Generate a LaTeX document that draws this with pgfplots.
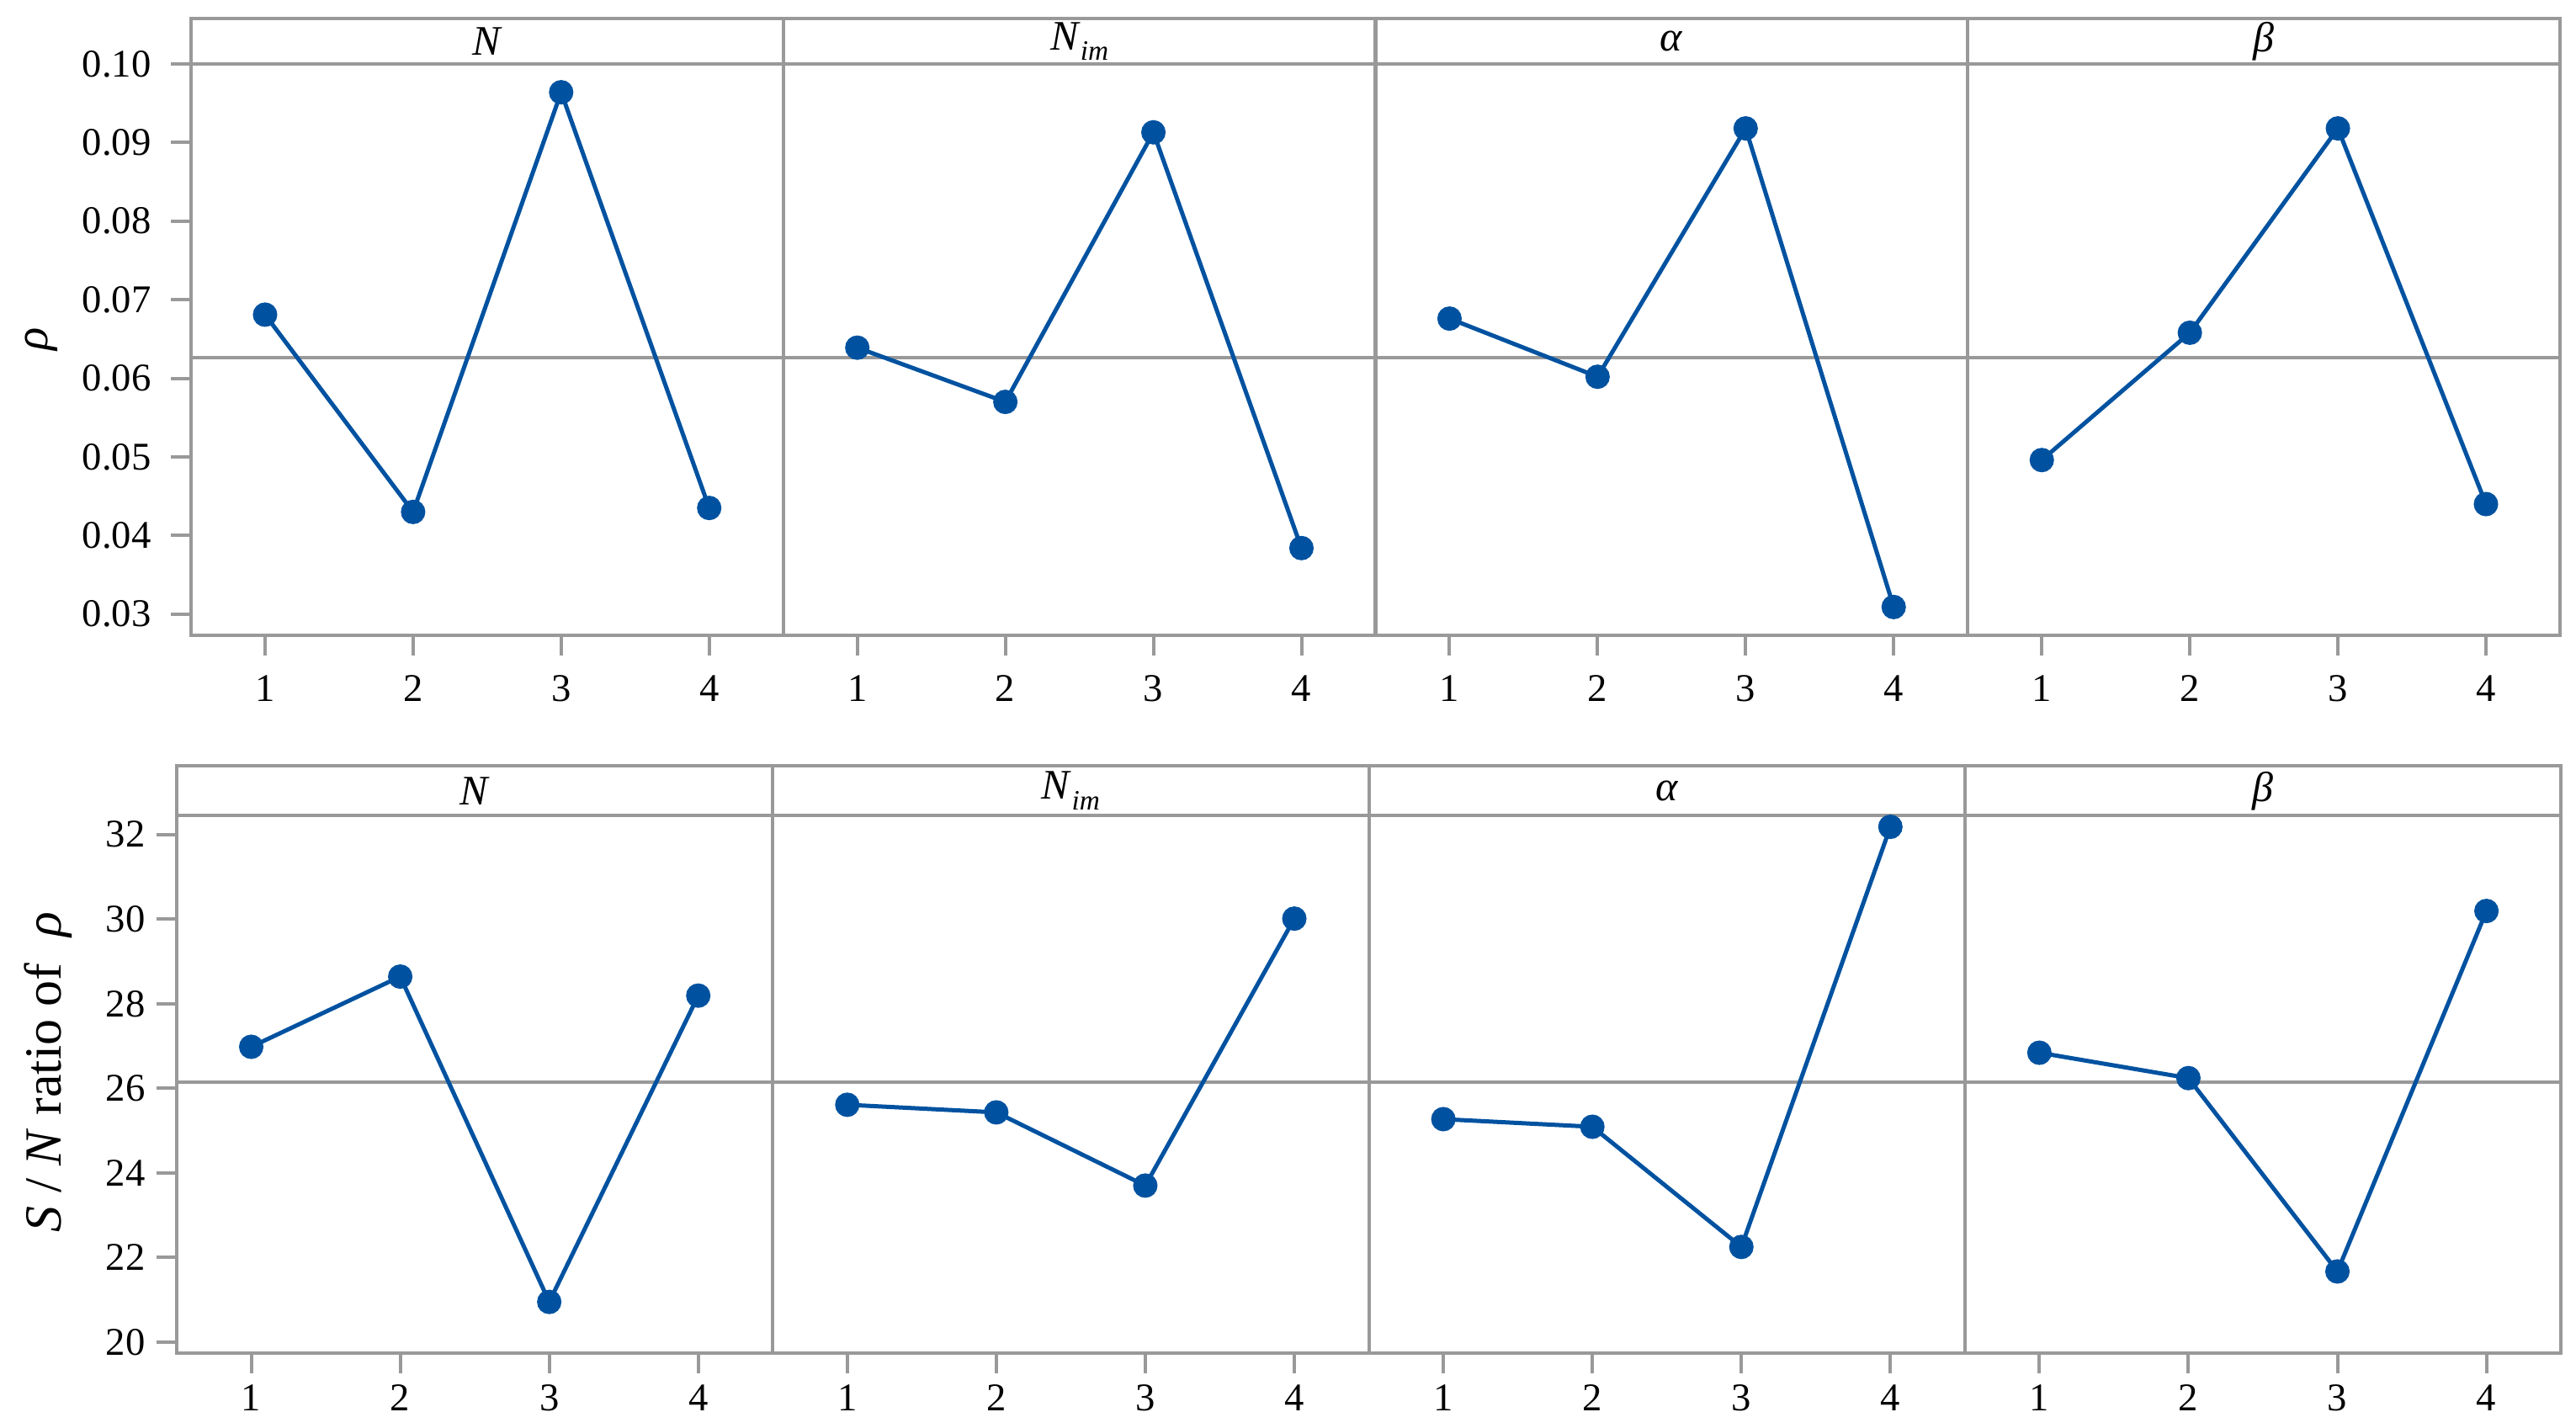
\documentclass[border=0pt]{standalone}
\usepackage{fontspec}
\setmainfont{Liberation Serif}
\usepackage{pgfplots}
\pgfplotsset{compat=1.18}

\definecolor{framegray}{RGB}{153,153,153}
\definecolor{lineblue}{RGB}{0,82,160}

\pgfplotsset{
  every axis title shift=0pt,
  panel/.style={
    scale only axis, anchor=south west, clip=false,
    xmin=0.5, xmax=4.5, xtick={1,2,3,4},
    axis line style={framegray, line width=0.6pt},
    every tick/.style={framegray, line width=0.6pt},
    tick align=outside, major tick length=3.6pt,
    xtick pos=bottom, ytick pos=left,
    ticklabel style={font=\fontsize{7}{8}\selectfont, text=black},
    /pgf/number format/assume math mode=true,
    scaled y ticks=false,
    title style={at={(0.5,1)}, anchor=center, font=\fontsize{7.5}{8}\selectfont},
  },
  toprow/.style={panel, width=105.56pt, height=101.85pt, ymin=0.0273, ymax=0.1,
    title style={yshift=4.05pt}},
  botrow/.style={panel, width=106.24pt, height=95.78pt, ymin=19.74, ymax=32.44,
    title style={yshift=4.46pt}, xticklabel style={yshift=1.5pt},
    yticklabel style={xshift=1.5pt}},
  inner/.style={ytick=\empty},
  series/.style={lineblue, line width=0.75pt, mark=*, mark size=1.8pt,
    mark options={fill=lineblue, draw=lineblue}},
  meanline/.style={framegray, line width=0.6pt, forget plot},
}

\begin{document}
\begin{tikzpicture}
\path[use as bounding box] (0,0) rectangle (459.15pt,254.4pt);

% top row: rho
\begin{axis}[toprow, at={(34.05pt,141.15pt)}, title={\textit{N}},
  ytick={0.03,0.04,0.05,0.06,0.07,0.08,0.09,0.10},
  yticklabel style={/pgf/number format/.cd, fixed, fixed zerofill, precision=2}]
\draw[framegray, line width=0.6pt] (rel axis cs:0,1) rectangle ([yshift=8.1pt]rel axis cs:1,1);
\addplot[meanline] coordinates {(0.5,0.0626)(4.5,0.0626)};
\addplot[series] coordinates {(1,0.0681)(2,0.0430)(3,0.0964)(4,0.0435)};
\end{axis}
\begin{axis}[toprow, inner, at={(139.61pt,141.15pt)},
  title={\textit{N}\raisebox{-0.55ex}{\fontsize{5}{5}\selectfont\itshape im}}]
\draw[framegray, line width=0.6pt] (rel axis cs:0,1) rectangle ([yshift=8.1pt]rel axis cs:1,1);
\addplot[meanline] coordinates {(0.5,0.0626)(4.5,0.0626)};
\addplot[series] coordinates {(1,0.0639)(2,0.0570)(3,0.0913)(4,0.0384)};
\end{axis}
\begin{axis}[toprow, inner, at={(245.17pt,141.15pt)}, title={\textit{α}}]
\draw[framegray, line width=0.6pt] (rel axis cs:0,1) rectangle ([yshift=8.1pt]rel axis cs:1,1);
\addplot[meanline] coordinates {(0.5,0.0626)(4.5,0.0626)};
\addplot[series] coordinates {(1,0.0676)(2,0.0602)(3,0.0918)(4,0.0309)};
\end{axis}
\begin{axis}[toprow, inner, at={(350.73pt,141.15pt)}, title={\textit{β}}]
\draw[framegray, line width=0.6pt] (rel axis cs:0,1) rectangle ([yshift=8.1pt]rel axis cs:1,1);
\addplot[meanline] coordinates {(0.5,0.0626)(4.5,0.0626)};
\addplot[series] coordinates {(1,0.0496)(2,0.0658)(3,0.0918)(4,0.0440)};
\end{axis}

% bottom row: S/N ratio
\begin{axis}[botrow, at={(31.5pt,13.2pt)}, title={\textit{N}},
  ytick={20,22,24,26,28,30,32}]
\draw[framegray, line width=0.6pt] (rel axis cs:0,1) rectangle ([yshift=8.93pt]rel axis cs:1,1);
\addplot[meanline] coordinates {(0.5,26.14)(4.5,26.14)};
\addplot[series] coordinates {(1,26.98)(2,28.64)(3,20.95)(4,28.19)};
\end{axis}
\begin{axis}[botrow, inner, at={(137.74pt,13.2pt)},
  title={\textit{N}\raisebox{-0.55ex}{\fontsize{5}{5}\selectfont\itshape im}}]
\draw[framegray, line width=0.6pt] (rel axis cs:0,1) rectangle ([yshift=8.93pt]rel axis cs:1,1);
\addplot[meanline] coordinates {(0.5,26.14)(4.5,26.14)};
\addplot[series] coordinates {(1,25.61)(2,25.43)(3,23.70)(4,30.01)};
\end{axis}
\begin{axis}[botrow, inner, at={(243.98pt,13.2pt)}, title={\textit{α}}]
\draw[framegray, line width=0.6pt] (rel axis cs:0,1) rectangle ([yshift=8.93pt]rel axis cs:1,1);
\addplot[meanline] coordinates {(0.5,26.14)(4.5,26.14)};
\addplot[series] coordinates {(1,25.27)(2,25.09)(3,22.25)(4,32.18)};
\end{axis}
\begin{axis}[botrow, inner, at={(350.22pt,13.2pt)}, title={\textit{β}}]
\draw[framegray, line width=0.6pt] (rel axis cs:0,1) rectangle ([yshift=8.93pt]rel axis cs:1,1);
\addplot[meanline] coordinates {(0.5,26.14)(4.5,26.14)};
\addplot[series] coordinates {(1,26.84)(2,26.24)(3,21.67)(4,30.19)};
\end{axis}

% axis titles
\node[rotate=90, font=\fontsize{8.5}{9}\selectfont] at (7.35pt,193.95pt) {\textit{ρ}};
\node[rotate=90, font=\fontsize{9.3}{10}\selectfont] at (8.6pt,63.3pt)
  {\textit{S} / \textit{N} ratio of\ \ \textit{ρ}};
\end{tikzpicture}
\end{document}
